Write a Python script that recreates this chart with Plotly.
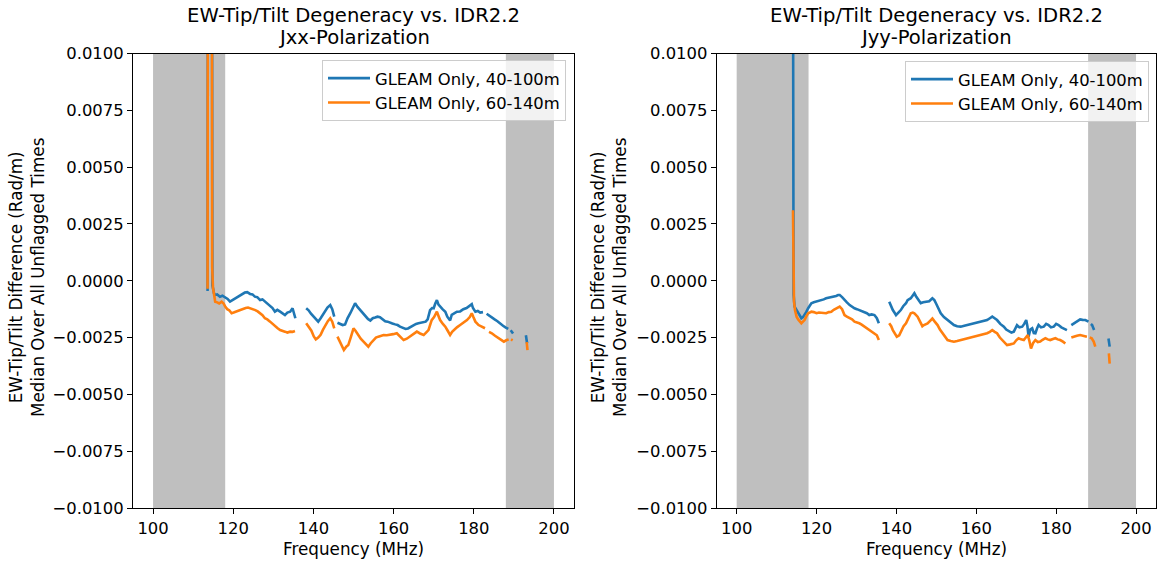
import plotly.graph_objects as go

# ---------------- DATA ----------------
# Jxx panel, GLEAM Only 40-100m
jxx_b_f = [113.6, 113.75, 114.6, 114.8, 115.2, 115.5, 116.0, 116.7, 117.3, 118.0, 118.6, 119.2, 119.8, 120.5, 121.1, 121.7,
           122.3, 122.9, 123.5, 124.2, 124.8, 125.4, 126.0, 126.7, 127.3, 127.9, 128.5, 129.2, 129.8, 130.4, 131.0, 131.7,
           132.3, 132.9, 133.5, 134.2, 134.8, 135.2, 135.5, None,
           138.2, 138.8, 139.4, 140.0, 140.6, 141.2, 141.8, 142.4, 142.9, 143.5, 144.2, 144.7, 145.2, None,
           146.0, 146.7, 147.3, 147.9, 148.5, 149.2, 149.8, 150.4, 151.0, 151.7, 152.3, 152.9, 153.6, 154.2, 154.8, 155.4,
           156.0, 156.6, 157.2, 157.9, 158.5, 159.1, 159.7, 160.4, 161.0, 161.6, 162.3, 163.0, 163.6, 164.3, 165.0, 165.6,
           166.2, 166.9, 167.5, 168.0, 168.5, 169.1, 169.6, 170.0, 170.4, 170.8, 171.2, 171.6, 172.2, 172.9, 173.4, 174.1,
           174.5, 175.0, 175.8, 176.6, 177.4, 178.2, 178.9, 179.5, 179.8, 180.4, 181.0, 181.6, 182.3, None,
           183.2, 183.9, 184.5, 185.2, 185.9, 186.6, 187.3, 187.9, 188.6, None, 189.2, 189.8, None, 193.0, 193.3]
jxx_b_v = [-0.00045, 0.03, 0.03, -0.0002, -0.00055, -0.00063, -0.00060, -0.00070, -0.00066, -0.00072, -0.00080, -0.00092,
           -0.00085, -0.00077, -0.00070, -0.00063, -0.00058, -0.00052, -0.00050, -0.00058, -0.00060, -0.00070, -0.00072,
           -0.00085, -0.00082, -0.00092, -0.00100, -0.00114, -0.00120, -0.00136, -0.00128, -0.00136, -0.00145, -0.00151,
           -0.00140, -0.00136, -0.00121, -0.00150, -0.00165, None,
           -0.00121, -0.00130, -0.00145, -0.00158, -0.00170, -0.00180, -0.00165, -0.00148, -0.00135, -0.00118, -0.00107,
           -0.00125, -0.00158, None,
           -0.00185, -0.00190, -0.00195, -0.00192, -0.00165, -0.00143, -0.00118, -0.00099, -0.00115, -0.00129, -0.00145,
           -0.00158, -0.00168, -0.00175, -0.00165, -0.00162, -0.00158, -0.00160, -0.00170, -0.00178, -0.00180, -0.00185,
           -0.00188, -0.00192, -0.00195, -0.00202, -0.00208, -0.00212, -0.00210, -0.00202, -0.00195, -0.00190, -0.00187,
           -0.00185, -0.00183, -0.00180, -0.00170, -0.00129, -0.00120, -0.00121, -0.00100, -0.00085, -0.00105, -0.00114,
           -0.00125, -0.00136, -0.00158, -0.00175, -0.00150, -0.00145, -0.00136, -0.00135, -0.00125, -0.00120, -0.00112,
           -0.00103, -0.00120, -0.00136, -0.00133, -0.00140, -0.00138, None,
           -0.00145, -0.00155, -0.00160, -0.00170, -0.00178, -0.00190, -0.00198, -0.00205, -0.00212, None,
           -0.00218, -0.00232, None, -0.00240, -0.00275]

# Jxx panel, GLEAM Only 60-140m
jxx_o_f = [113.6, 113.75, 114.6, 114.75, 114.95, 115.2, 115.5, 116.0, 116.5, 117.1, 117.6, 118.0, 118.5, 119.0, 119.6, 120.1,
           120.7, 121.3, 121.9, 122.5, 123.1, 123.7, 124.3, 124.9, 125.5, 126.1, 126.7, 127.3, 127.9, 128.5, 129.2, 129.8,
           130.4, 131.0, 131.7, 132.3, 132.9, 133.5, 134.2, 134.8, 135.4, None,
           138.2, 138.8, 139.5, 140.1, 140.6, 141.2, 141.8, 142.4, 143.0, 143.6, 144.2, 144.7, 145.2, None,
           146.0, 146.7, 147.3, 147.6, 148.2, 148.7, 149.3, 150.0, 150.5, 151.2, 151.8, 152.5, 153.1, 153.7, 154.3, 155.0,
           155.6, 156.2, 156.9, 157.5, 158.3, 159.1, 159.9, 160.8, 161.6, 162.5, 163.3, 164.1, 165.0, 165.8, 166.6, 167.5,
           168.1, 168.7, 169.2, 169.5, 170.1, 170.8, 171.2, 171.6, 172.3, 172.9, 173.5, 174.1, 174.6, 175.0, 175.8, 176.6,
           177.4, 178.3, 179.0, 179.5, 179.9, 180.4, 181.2, 182.1, 182.8, None,
           183.8, 184.5, 185.3, 186.2, 186.9, 187.5, 188.1, 188.7, None, 189.3, 189.7, None, 193.2, 193.4]
jxx_o_v = [-0.00035, 0.03, 0.03, 0.0006, -0.0003, -0.0007, -0.00092, -0.00095, -0.00100, -0.00092, -0.00100, -0.00114,
           -0.00125, -0.00130, -0.00143, -0.00140, -0.00136, -0.00130, -0.00128, -0.00122, -0.00120, -0.00118, -0.00121,
           -0.00125, -0.00129, -0.00135, -0.00143, -0.00152, -0.00165, -0.00170, -0.00180, -0.00190, -0.00202, -0.00208,
           -0.00217, -0.00222, -0.00224, -0.00228, -0.00224, -0.00225, -0.00221, None,
           -0.00187, -0.00205, -0.00220, -0.00245, -0.00258, -0.00250, -0.00238, -0.00215, -0.00195, -0.00178, -0.00165,
           -0.00180, -0.00210, None,
           -0.00246, -0.00270, -0.00295, -0.00305, -0.00290, -0.00283, -0.00250, -0.00210, -0.00220, -0.00239, -0.00255,
           -0.00268, -0.00280, -0.00290, -0.00275, -0.00261, -0.00250, -0.00246, -0.00243, -0.00239, -0.00240, -0.00239,
           -0.00235, -0.00231, -0.00245, -0.00261, -0.00255, -0.00246, -0.00232, -0.00224, -0.00232, -0.00239, -0.00228,
           -0.00217, -0.00190, -0.00173, -0.00160, -0.00136, -0.00155, -0.00173, -0.00190, -0.00202, -0.00220, -0.00239,
           -0.00225, -0.00217, -0.00205, -0.00195, -0.00185, -0.00173, -0.00160, -0.00143, -0.00160, -0.00180, -0.00195,
           -0.00202, -0.00209, None,
           -0.00225, -0.00231, -0.00242, -0.00253, -0.00262, -0.00268, -0.00262, -0.00258, None,
           -0.00258, -0.00262, None, -0.00270, -0.00305]

# Jyy panel, GLEAM Only 40-100m
jyy_b_f = [113.95, 114.1, 114.25, 114.5, 115.0, 115.4, 115.8, 116.2, 116.6, 117.0, 117.4, 117.9, 118.3, 118.7, 119.3, 120.0,
           120.6, 121.2, 121.8, 122.4, 123.1, 123.7, 124.3, 124.9, 125.4, 125.8, 126.4, 127.0, 127.6, 128.3, 128.9, 129.5,
           130.1, 130.7, 131.3, 132.0, 132.6, 133.2, 133.8, 134.5, 135.1, 135.6, None,
           138.2, 138.6, 139.1, 139.5, 139.9, 140.5, 141.1, 141.7, 142.4, 142.8, 143.6, 144.1, 144.5, 144.9, 145.3, 145.7,
           146.1, 146.7, 147.4, 148.2, 149.0, 149.5, 149.9, 150.5, 151.1, 151.9, 152.8, 153.6, 154.4, 155.2, 156.1, 157.0,
           157.8, 158.6, 159.4, 160.3, 161.1, 161.9, 162.7, 163.4, 164.0, 164.6, 165.2, 166.0, 166.9, 167.5, 168.2, 168.8,
           169.4, 170.2, 170.8, 171.5, 172.0, 172.5, 172.8, 173.1, 173.5, 174.0, 174.4, 174.8, 175.2, 175.6, 176.2, 176.9,
           177.5, 178.1, 178.7, 179.4, 180.0, 180.6, 181.3, 181.9, 182.7, None,
           183.8, 184.4, 185.2, 186.0, 186.6, 187.3, 188.1, None, 188.7, 189.0, 189.5, None, 193.1, 193.4]
jyy_b_v = [0.03, 0.003, -0.0006, -0.00114, -0.00130, -0.00143, -0.00155, -0.00165, -0.00160, -0.00151, -0.00138, -0.00121,
           -0.00108, -0.00099, -0.00095, -0.00092, -0.00088, -0.00085, -0.00082, -0.00077, -0.00075, -0.00073, -0.00070,
           -0.00067, -0.00063, -0.00063, -0.00072, -0.00085, -0.00095, -0.00107, -0.00115, -0.00121, -0.00125, -0.00129,
           -0.00132, -0.00136, -0.00143, -0.00151, -0.00148, -0.00151, -0.00165, -0.00187, None,
           -0.00092, -0.00110, -0.00129, -0.00140, -0.00151, -0.00140, -0.00129, -0.00112, -0.00099, -0.00085, -0.00077,
           -0.00065, -0.00055, -0.00068, -0.00077, -0.00090, -0.00099, -0.00095, -0.00092, -0.00090, -0.00077, -0.00085,
           -0.00099, -0.00120, -0.00143, -0.00160, -0.00173, -0.00185, -0.00195, -0.00200, -0.00202, -0.00198, -0.00195,
           -0.00190, -0.00188, -0.00185, -0.00180, -0.00178, -0.00173, -0.00165, -0.00158, -0.00165, -0.00173, -0.00190,
           -0.00202, -0.00215, -0.00224, -0.00228, -0.00224, -0.00195, -0.00205, -0.00202, -0.00190, -0.00173, -0.00200,
           -0.00246, -0.00215, -0.00209, -0.00230, -0.00231, -0.00210, -0.00195, -0.00205, -0.00202, -0.00190, -0.00195,
           -0.00205, -0.00202, -0.00190, -0.00195, -0.00205, -0.00209, -0.00217, None,
           -0.00195, -0.00188, -0.00178, -0.00170, -0.00172, -0.00173, -0.00180, None,
           -0.00190, -0.00195, -0.00217, None, -0.00254, -0.00290]

# Jyy panel, GLEAM Only 60-140m
jyy_o_f = [114.1, 114.2, 114.35, 114.6, 115.0, 115.4, 115.8, 116.2, 116.6, 117.0, 117.4, 117.9, 118.3, 118.7, 119.3, 120.0,
           120.6, 121.2, 121.8, 122.4, 123.1, 123.7, 124.3, 124.9, 125.4, 125.8, 126.4, 127.0, 127.6, 128.3, 128.9, 129.5,
           130.1, 130.7, 131.3, 132.0, 132.6, 133.2, 133.8, 134.5, 135.1, 135.6, None,
           138.2, 138.7, 139.1, 139.5, 140.1, 140.7, 141.1, 141.8, 142.4, 143.0, 143.6, 144.1, 144.5, 145.3, 145.7, 146.1,
           146.5, 146.9, 147.8, 148.5, 149.0, 149.6, 150.3, 150.9, 151.5, 152.2, 152.8, 153.6, 154.4, 155.2, 156.1, 157.0,
           157.8, 158.6, 159.4, 160.3, 161.1, 161.9, 162.7, 163.4, 164.0, 164.6, 165.2, 165.9, 166.5, 167.1, 167.7, 168.5,
           169.4, 170.0, 170.6, 171.2, 171.9, 172.4, 172.9, 173.3, 173.7, 174.2, 174.8, 175.4, 176.0, 176.6, 177.3, 177.9,
           178.5, 179.2, 179.8, 180.4, 181.0, 181.7, 182.3, None,
           183.8, 184.4, 185.2, 186.0, 186.9, 187.7, None, 188.4, 188.9, 189.4, 189.8, None, 193.2, 193.4]
jyy_o_v = [0.0031, -0.0002, -0.0009, -0.00129, -0.00158, -0.00170, -0.00180, -0.00187, -0.00180, -0.00173, -0.00158,
           -0.00143, -0.00140, -0.00136, -0.00138, -0.00143, -0.00140, -0.00140, -0.00142, -0.00143, -0.00138, -0.00136,
           -0.00128, -0.00121, -0.00116, -0.00114, -0.00125, -0.00151, -0.00158, -0.00165, -0.00170, -0.00180, -0.00183,
           -0.00187, -0.00193, -0.00202, -0.00210, -0.00217, -0.00225, -0.00231, -0.00240, -0.00261, None,
           -0.00187, -0.00200, -0.00217, -0.00231, -0.00246, -0.00240, -0.00224, -0.00200, -0.00187, -0.00165, -0.00143,
           -0.00140, -0.00143, -0.00158, -0.00173, -0.00187, -0.00200, -0.00195, -0.00188, -0.00175, -0.00166, -0.00180,
           -0.00195, -0.00215, -0.00231, -0.00248, -0.00261, -0.00265, -0.00268, -0.00265, -0.00261, -0.00257, -0.00253,
           -0.00250, -0.00246, -0.00242, -0.00239, -0.00235, -0.00231, -0.00225, -0.00217, -0.00225, -0.00231, -0.00250,
           -0.00261, -0.00275, -0.00283, -0.00280, -0.00276, -0.00262, -0.00253, -0.00258, -0.00261, -0.00250, -0.00239,
           -0.00265, -0.00298, -0.00275, -0.00261, -0.00270, -0.00268, -0.00260, -0.00253, -0.00258, -0.00261, -0.00256,
           -0.00253, -0.00258, -0.00261, -0.00268, -0.00276, None,
           -0.00250, -0.00246, -0.00242, -0.00239, -0.00243, -0.00246, None,
           -0.00250, -0.00253, -0.00268, -0.00290, None, -0.00320, -0.00365]

series_names = ["GLEAM Only, 40-100m", "GLEAM Only, 60-140m"]
panel_titles = ["EW-Tip/Tilt Degeneracy vs. IDR2.2", "EW-Tip/Tilt Degeneracy vs. IDR2.2"]
panel_subtitles = ["Jxx-Polarization", "Jyy-Polarization"]
flag_bands = [(100, 118), (188, 200)]
x_ticks = [100, 120, 140, 160, 180, 200]
y_ticks = [0.01, 0.0075, 0.005, 0.0025, 0.0, -0.0025, -0.005, -0.0075, -0.01]
y_tick_text = ["0.0100", "0.0075", "0.0050", "0.0025", "0.0000", "\u22120.0025", "\u22120.0050", "\u22120.0075", "\u22120.0100"]
x_label = "Frequency (MHz)"
y_label = "EW-Tip/Tilt Difference (Rad/m)<br>Median Over All Unflagged Times"

# ---------------- STYLE ----------------
W, H = 1157, 563
BLUE, ORANGE = "#1f77b4", "#ff7f0e"
FONT = "DejaVu Sans"
FS = 16.4
FL = 16.8
FT = 19.6
left_px = [(133, 574), (716.7, 1156)]
top_px, bot_px = 53.5, 508

fig = go.Figure()

panels = [(jxx_b_f, jxx_b_v, jxx_o_f, jxx_o_v), (jyy_b_f, jyy_b_v, jyy_o_f, jyy_o_v)]
for i, (bf, bv, of, ov) in enumerate(panels):
    xa = "x" if i == 0 else "x2"
    ya = "y" if i == 0 else "y2"
    lg = "legend" if i == 0 else "legend2"
    fig.add_trace(go.Scatter(x=bf, y=bv, mode="lines", name=series_names[0], xaxis=xa, yaxis=ya,
                             line=dict(color=BLUE, width=2.6), legend=lg, legendgroup=f"b{i}",
                             connectgaps=False, hoverinfo="skip"))
    fig.add_trace(go.Scatter(x=of, y=ov, mode="lines", name=series_names[1], xaxis=xa, yaxis=ya,
                             line=dict(color=ORANGE, width=2.6), legend=lg, legendgroup=f"o{i}",
                             connectgaps=False, hoverinfo="skip"))
    for (a, b) in flag_bands:
        fig.add_shape(type="rect", xref=xa, yref=f"{ya} domain", x0=a, x1=b, y0=0, y1=1,
                      fillcolor="#bfbfbf", line=dict(width=0), layer="below")

axis_common = dict(showline=True, linecolor="black", linewidth=1.1, mirror=True, ticks="outside",
                   ticklen=5, tickwidth=1.1, tickcolor="black", showgrid=False, zeroline=False,
                   automargin=False, tickfont=dict(family=FONT, size=FS, color="black"))

ydom = [1 - bot_px / H, 1 - top_px / H]
layout = dict(width=W, height=H, margin=dict(l=0, r=0, t=0, b=0, pad=0), autosize=False,
              paper_bgcolor="white", plot_bgcolor="white", font=dict(family=FONT, size=FS, color="black"))
for i in range(2):
    xk = "xaxis" if i == 0 else "xaxis2"
    yk = "yaxis" if i == 0 else "yaxis2"
    xdom = [left_px[i][0] / W, left_px[i][1] / W]
    layout[xk] = dict(domain=xdom, range=[95, 205], tickvals=x_ticks, ticktext=[str(t) for t in x_ticks],
                      anchor="y" if i == 0 else "y2", **axis_common)
    layout[yk] = dict(domain=ydom, range=[-0.01, 0.01], tickvals=y_ticks, ticktext=y_tick_text,
                      anchor="x" if i == 0 else "x2", **axis_common)

legend_common = dict(bgcolor="rgba(255,255,255,0.8)", bordercolor="#cccccc", borderwidth=1,
                     font=dict(family=FONT, size=FS, color="black"), xanchor="right", yanchor="top",
                     itemwidth=42, tracegroupgap=0)
layout["legend"] = dict(x=566 / W, y=1 - 60 / H, **legend_common)
layout["legend2"] = dict(x=1149 / W, y=1 - 61 / H, **legend_common)
fig.update_layout(**layout)

anns = []
for i in range(2):
    cx = (left_px[i][0] + left_px[i][1]) / 2 / W
    anns.append(dict(text=panel_titles[i], x=cx, y=1 - 16 / H, xref="paper", yref="paper", showarrow=False,
                     xanchor="center", yanchor="middle", font=dict(family=FONT, size=FT, color="black")))
    anns.append(dict(text=panel_subtitles[i], x=cx, y=1 - 38 / H, xref="paper", yref="paper", showarrow=False,
                     xanchor="center", yanchor="middle", font=dict(family=FONT, size=FT, color="black")))
    anns.append(dict(text=x_label, x=cx, y=1 - 549 / H, xref="paper", yref="paper", showarrow=False,
                     xanchor="center", yanchor="middle", font=dict(family=FONT, size=FL, color="black")))
    ylx = (27 if i == 0 else 609) / W
    anns.append(dict(text=y_label, x=ylx, y=1 - 278 / H, xref="paper", yref="paper", showarrow=False,
                     textangle=-90, xanchor="center", yanchor="middle",
                     font=dict(family=FONT, size=FL, color="black")))
fig.update_layout(annotations=anns)

fig.write_html("out.html")
